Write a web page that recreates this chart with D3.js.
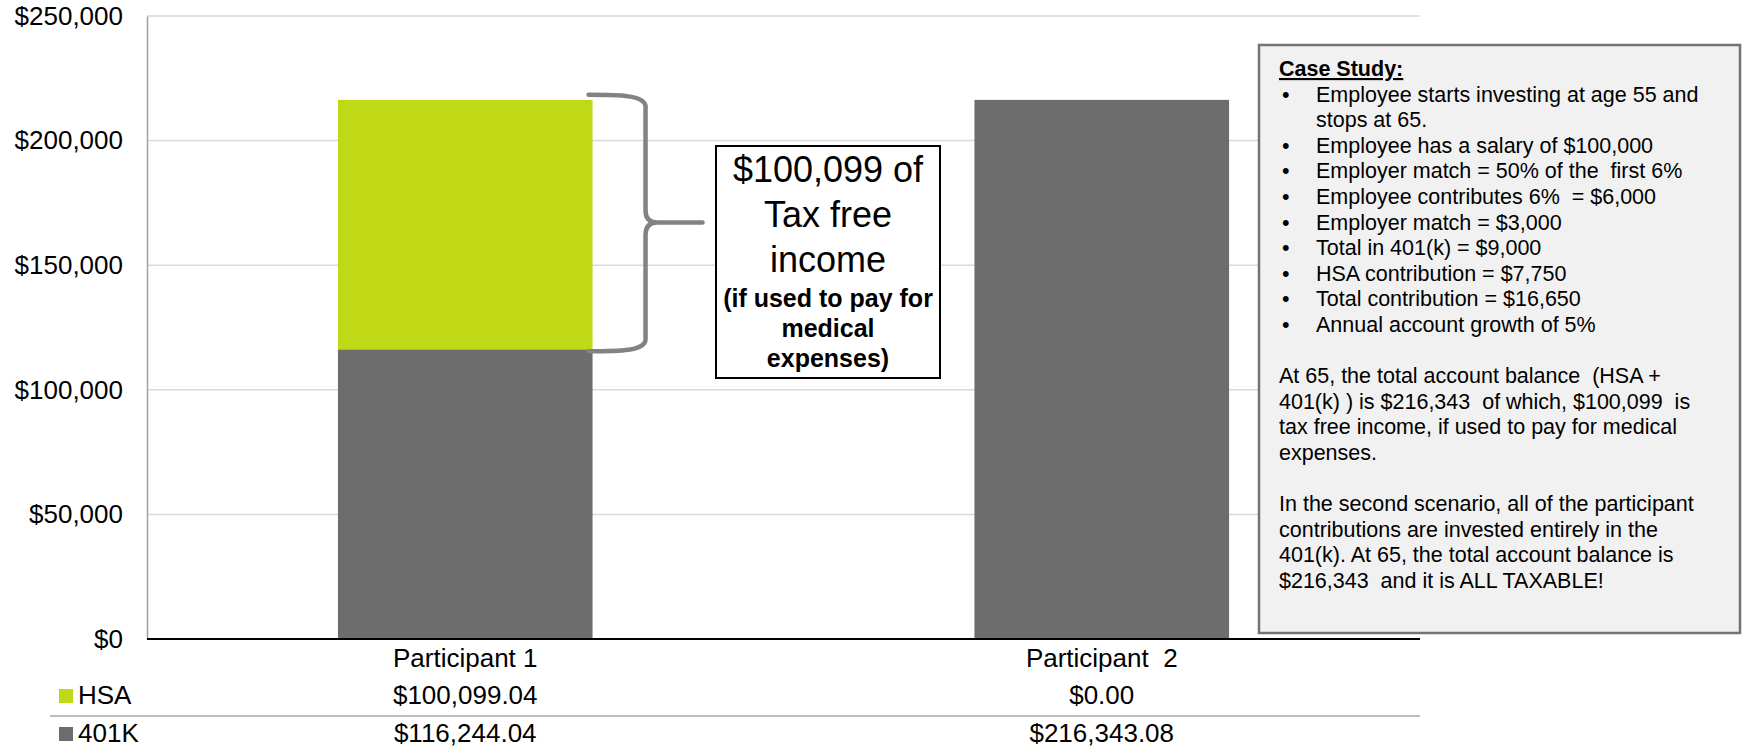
<!DOCTYPE html>
<html>
<head>
<meta charset="utf-8">
<script src="https://cdn.jsdelivr.net/npm/d3@7"></script>
<style>
  html, body { margin: 0; padding: 0; background: #ffffff; }
  svg { display: block; font-family: "Liberation Sans", Arial, Helvetica, sans-serif; }
  text { white-space: pre; }
</style>
</head>
<body>
<svg id="chart" width="1747" height="749"></svg>
<script>
// Balances at age 65 for the two savings scenarios
const categories = ["Participant 1", "Participant  2"];
const seriesNames = ["HSA", "401K"];
const hsaValues = [100099.04, 0.00];
const k401Values = [116244.04, 216343.08];
const yTicks = [0, 50000, 100000, 150000, 200000, 250000];

const caseStudyTitle = "Case Study:";
const caseStudyBullets = [
  ["Employee starts investing at age 55 and", "stops at 65."],
  ["Employee has a salary of $100,000"],
  ["Employer match = 50% of the  first 6%"],
  ["Employee contributes 6%  = $6,000"],
  ["Employer match = $3,000"],
  ["Total in 401(k) = $9,000"],
  ["HSA contribution = $7,750"],
  ["Total contribution = $16,650"],
  ["Annual account growth of 5%"]
];
const caseStudyParagraphs = [
  ["At 65, the total account balance  (HSA +",
   "401(k) ) is $216,343  of which, $100,099  is",
   "tax free income, if used to pay for medical",
   "expenses."],
  ["In the second scenario, all of the participant",
   "contributions are invested entirely in the",
   "401(k). At 65, the total account balance is",
   "$216,343  and it is ALL TAXABLE!"]
];

const colors = { HSA: "#bfd916", "401K": "#6d6d6d" };

const svg = d3.select("#chart");
const plot = { left: 147, right: 1420, top: 16, bottom: 639 };

const x = d3.scaleBand()
  .domain(categories)
  .range([plot.left, plot.right])
  .paddingInner(0.6)
  .paddingOuter(0.3);

const y = d3.scaleLinear()
  .domain([0, 250000])
  .range([plot.bottom, plot.top]);

const fmtTick = d3.format("$,.0f");
const fmtCell = d3.format("$,.2f");

// Horizontal gridlines
svg.append("g")
  .selectAll("line")
  .data(yTicks.filter(d => d > 0))
  .join("line")
  .attr("x1", plot.left).attr("x2", plot.right)
  .attr("y1", d => y(d)).attr("y2", d => y(d))
  .attr("stroke", "#d9d9d9").attr("stroke-width", 1.5);

// Y axis
const yAxis = svg.append("g")
  .attr("transform", `translate(${plot.left},0)`)
  .call(d3.axisLeft(y).tickValues(yTicks).tickFormat(fmtTick).tickSize(0).tickPadding(24));
yAxis.select(".domain").attr("stroke", "#a0a0a0").attr("stroke-width", 1.5);
yAxis.selectAll("text")
  .attr("font-size", 26).attr("fill", "#000")
  .attr("font-family", "\"Liberation Sans\", Arial, sans-serif");

// Stacked bars
const rows = categories.map((c, i) => ({ cat: c, HSA: hsaValues[i], "401K": k401Values[i] }));
const stack = d3.stack().keys(["401K", "HSA"])(rows);

svg.append("g")
  .selectAll("g")
  .data(stack)
  .join("g")
  .attr("fill", d => colors[d.key])
  .selectAll("rect")
  .data(d => d)
  .join("rect")
  .attr("x", d => x(d.data.cat))
  .attr("width", x.bandwidth())
  .attr("y", d => y(d[1]))
  .attr("height", d => y(d[0]) - y(d[1]));

// X axis baseline
svg.append("line")
  .attr("x1", plot.left).attr("x2", plot.right)
  .attr("y1", plot.bottom).attr("y2", plot.bottom)
  .attr("stroke", "#000").attr("stroke-width", 2);

// Data table under the axis
const cx = c => x(c) + x.bandwidth() / 2;
const table = svg.append("g").attr("font-size", 26).attr("fill", "#000");

table.selectAll("text.cat")
  .data(categories)
  .join("text")
  .attr("class", "cat")
  .attr("x", d => cx(d)).attr("y", 667)
  .attr("text-anchor", "middle")
  .text(d => d);

const tableRows = [
  { name: "HSA", values: hsaValues, baseline: 704, swatchY: 689 },
  { name: "401K", values: k401Values, baseline: 742, swatchY: 727 }
];

tableRows.forEach(r => {
  table.append("rect")
    .attr("x", 59).attr("y", r.swatchY)
    .attr("width", 14).attr("height", 14)
    .attr("fill", colors[r.name]);
  table.append("text")
    .attr("x", 78).attr("y", r.baseline)
    .text(r.name);
  table.selectAll(null)
    .data(r.values)
    .join("text")
    .attr("x", (d, i) => cx(categories[i])).attr("y", r.baseline)
    .attr("text-anchor", "middle")
    .text(d => fmtCell(d));
});

table.append("line")
  .attr("x1", 50).attr("x2", plot.right)
  .attr("y1", 716).attr("y2", 716)
  .attr("stroke", "#a6a6a6").attr("stroke-width", 1.5);

// Curly brace spanning the HSA segment of the first bar
const braceTop = y(hsaValues[0] + k401Values[0]) - 5;
const braceBot = y(k401Values[0]) + 2;
const braceMid = (braceTop + braceBot) / 2 - 0.5;
const bx0 = x(categories[0]) + x.bandwidth() - 4;
const spine = bx0 + 57;
const tip = bx0 + 114;
const r = 12;
const bracePath = d3.path();
bracePath.moveTo(bx0, braceTop);
bracePath.bezierCurveTo(bx0 + 30, braceTop, spine, braceTop, spine, braceTop + r);
bracePath.lineTo(spine, braceMid - r);
bracePath.quadraticCurveTo(spine, braceMid, spine + r, braceMid);
bracePath.lineTo(tip, braceMid);
bracePath.moveTo(spine + r, braceMid);
bracePath.quadraticCurveTo(spine, braceMid, spine, braceMid + r);
bracePath.lineTo(spine, braceBot - r);
bracePath.bezierCurveTo(spine, braceBot, bx0 + 30, braceBot, bx0, braceBot);

svg.append("path")
  .attr("d", bracePath.toString())
  .attr("fill", "none")
  .attr("stroke", "#828282")
  .attr("stroke-width", 4.5)
  .attr("stroke-linecap", "round")
  .attr("stroke-linejoin", "round");

// Callout box
const callout = svg.append("g");
callout.append("rect")
  .attr("x", 716).attr("y", 146)
  .attr("width", 224).attr("height", 232)
  .attr("fill", "#fff").attr("stroke", "#000").attr("stroke-width", 2);

const calloutLines = [
  { t: `${fmtTick(hsaValues[0])} of`, y: 182, size: 36, weight: "normal" },
  { t: "Tax free", y: 227, size: 36, weight: "normal" },
  { t: "income", y: 272, size: 36, weight: "normal" },
  { t: "(if used to pay for", y: 307, size: 25, weight: "bold" },
  { t: "medical", y: 337, size: 25, weight: "bold" },
  { t: "expenses)", y: 367, size: 25, weight: "bold" }
];
callout.selectAll("text")
  .data(calloutLines)
  .join("text")
  .attr("x", 828).attr("y", d => d.y)
  .attr("text-anchor", "middle")
  .attr("font-size", d => d.size)
  .attr("font-weight", d => d.weight)
  .attr("fill", "#000")
  .text(d => d.t);

// Case study panel
const panel = svg.append("g");
panel.append("rect")
  .attr("x", 1259).attr("y", 45)
  .attr("width", 481).attr("height", 588)
  .attr("fill", "#f1f1f1").attr("stroke", "#737373").attr("stroke-width", 2.5);

const lh = 25.6;
const fs = 21.5;
const textX = 1279;
const bulletX = 1282;
const bulletTextX = 1316;
let base = 76;

panel.append("text")
  .attr("x", textX).attr("y", base)
  .attr("font-size", fs).attr("font-weight", "bold")
  .attr("text-decoration", "underline")
  .attr("fill", "#000")
  .text(caseStudyTitle);

caseStudyBullets.forEach(lines => {
  base += lh;
  panel.append("text")
    .attr("x", bulletX).attr("y", base)
    .attr("font-size", fs).attr("fill", "#000")
    .text("\u2022");
  lines.forEach((ln, j) => {
    if (j > 0) base += lh;
    panel.append("text")
      .attr("x", bulletTextX).attr("y", base)
      .attr("font-size", fs).attr("fill", "#000")
      .text(ln);
  });
});

caseStudyParagraphs.forEach(par => {
  base += lh; // blank line between blocks
  par.forEach(ln => {
    base += lh;
    panel.append("text")
      .attr("x", textX).attr("y", base)
      .attr("font-size", fs).attr("fill", "#000")
      .text(ln);
  });
});
</script>
</body>
</html>
